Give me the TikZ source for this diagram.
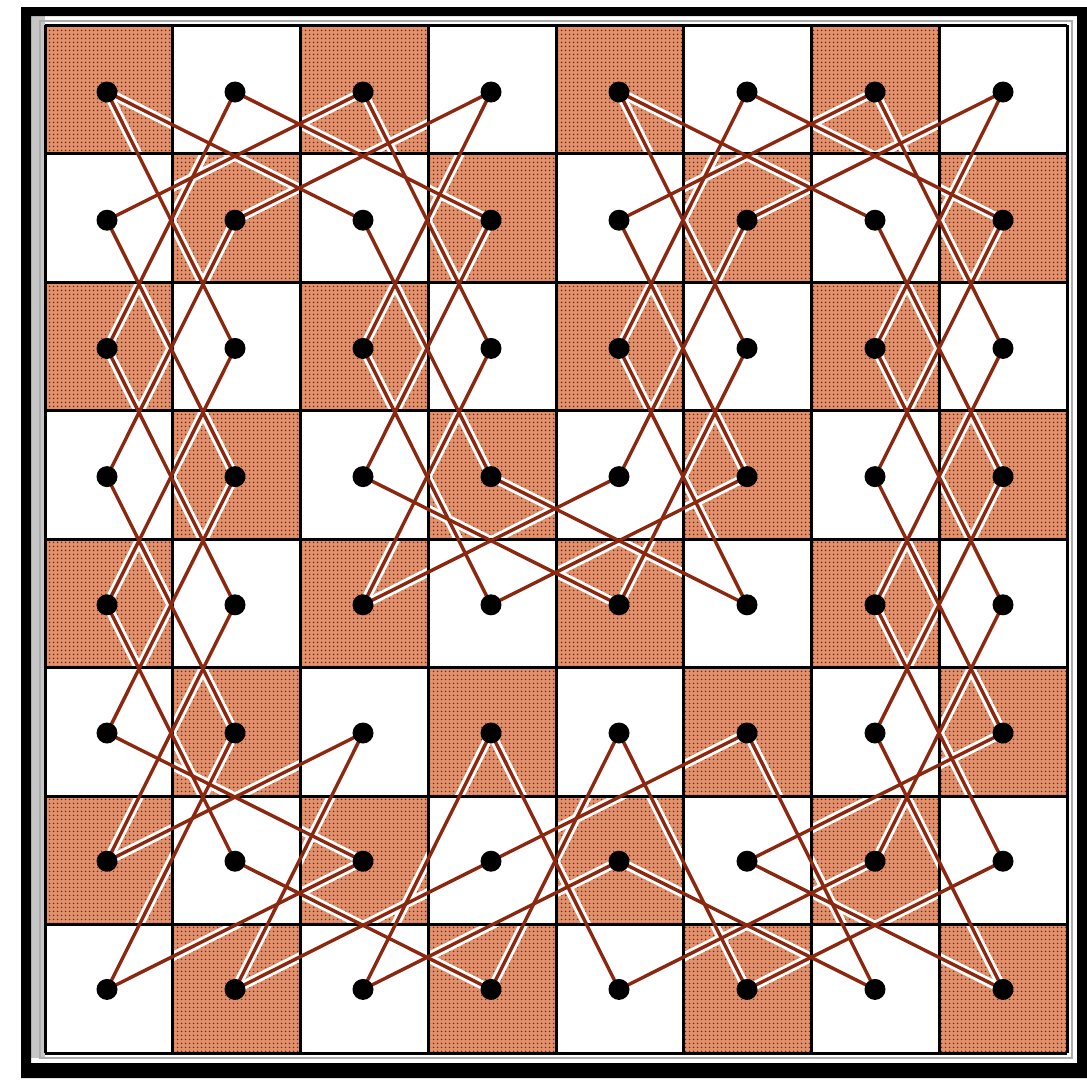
\documentclass[tikz,border=0pt]{standalone}
\usetikzlibrary{patterns}
\definecolor{cellbrown}{RGB}{226,145,108}
\definecolor{hatchdark}{RGB}{112,44,24}
\definecolor{tourline}{RGB}{140,40,16}
\pgfdeclarepatternformonly{browndots}{\pgfpointorigin}{\pgfpoint{4pt}{4pt}}{\pgfpoint{4pt}{4pt}}{%
  \pgfpathcircle{\pgfpoint{2pt}{2pt}}{1.1pt}\pgfusepath{fill}}
\pgfdeclarelayer{cells}
\pgfdeclarelayer{halo}
\pgfdeclarelayer{gridl}
\pgfdeclarelayer{tour}
\pgfsetlayers{cells,halo,gridl,tour,main}
\tikzset{
  dot/.style={circle,fill=black,inner sep=0pt,minimum size=21pt},
  halo/.style={white,line width=9pt},
  tourseg/.style={tourline,line width=3.4pt},
  gridline/.style={black,line width=3pt},
}
\def\edges{0/0/2/1, 2/1/3/3, 3/3/5/4, 5/4/4/2, 4/2/5/0, 5/0/7/1, 7/1/6/3, 6/3/7/5,
 7/5/5/6, 5/6/7/7, 7/7/6/5, 6/5/7/3, 7/3/6/1, 6/1/4/0, 4/0/5/2, 5/2/4/4,
 4/4/2/3, 2/3/3/1, 3/1/1/0, 1/0/0/2, 0/2/1/4, 1/4/0/6, 0/6/2/5, 2/5/1/7,
 1/7/3/6, 3/6/5/5, 5/5/6/7, 6/7/4/6, 4/6/2/7, 2/7/3/5, 3/5/4/7, 4/7/6/6,
 6/6/7/4, 7/4/6/2, 6/2/7/0, 7/0/5/1, 5/1/4/3, 4/3/2/4, 2/4/3/2, 3/2/2/0,
 2/0/0/1, 0/1/1/3, 1/3/0/5, 0/5/2/6, 2/6/0/7, 0/7/1/5, 1/5/0/3, 0/3/1/1,
 1/1/3/0, 3/0/2/2, 2/2/3/4, 3/4/5/3, 5/3/4/1, 4/1/6/0, 6/0/7/2, 7/2/6/4,
 6/4/7/6, 7/6/5/7, 5/7/4/5, 4/5/3/7, 3/7/1/6, 1/6/0/4, 0/4/1/2, 1/2/0/0}
\begin{document}
\begin{tikzpicture}[x=1pt,y=-1pt]
\useasboundingbox (0,0) rectangle (1087,1080);
% dots (named nodes)
\foreach \c in {0,...,7}{
  \foreach \r in {0,...,7}{
    \node[dot] (n-\c-\r) at ({107+128*\c},{92+128.2*\r}) {};
  }
}
\begin{pgfonlayer}{cells}
  \fill[white] (0,0) rectangle (1087,1080);
  % outer frame
  \fill[gray!45] (31,16) rectangle (45,1058);
  \draw[gray!65,line width=2.5pt] (40,21) rectangle (1072,1058);
  \fill[black,even odd rule] (21,7) rectangle (1087,1078) (31,16) rectangle (1077,1063);
  % hatched dark squares
  \foreach \c in {0,...,7}{
    \foreach \r in {0,2,4,6}{
      \pgfmathtruncatemacro\rr{\r+mod(\c,2)}
      \fill[cellbrown] ({45+127.75*\c},{25+128.5*\rr}) rectangle +(127.75,128.5);
      \fill[pattern=browndots,pattern color=hatchdark] ({45+127.75*\c},{25+128.5*\rr}) rectangle +(127.75,128.5);
    }
  }
\end{pgfonlayer}
\begin{pgfonlayer}{halo}
  \foreach \a/\b/\c/\d in \edges {\draw[halo] (n-\a-\b.center) -- (n-\c-\d.center);}
\end{pgfonlayer}
\begin{pgfonlayer}{gridl}
  \foreach \i in {0,...,8}{
    \draw[gridline] ({45+127.75*\i},25) -- ({45+127.75*\i},1053);
    \draw[gridline] (45,{25+128.5*\i}) -- (1067,{25+128.5*\i});
  }
\end{pgfonlayer}
\begin{pgfonlayer}{tour}
  \foreach \a/\b/\c/\d in \edges {\draw[tourseg] (n-\a-\b.center) -- (n-\c-\d.center);}
\end{pgfonlayer}
\end{tikzpicture}
\end{document}
